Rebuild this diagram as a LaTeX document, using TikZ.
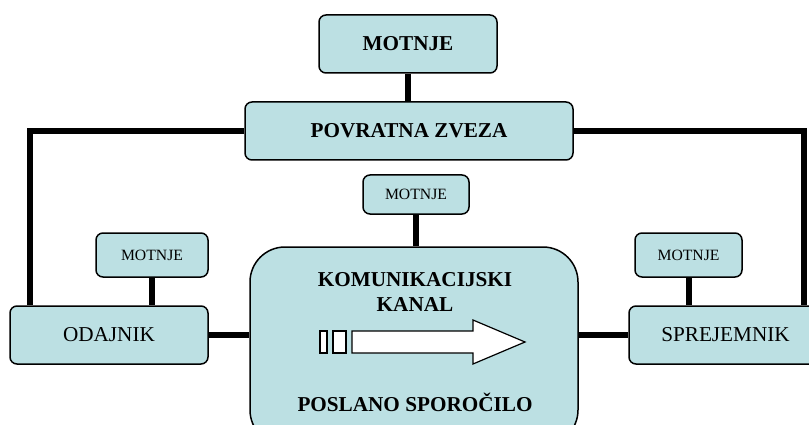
\documentclass[tikz,border=0pt]{standalone}
\usepackage{fontspec}
\setmainfont{Liberation Serif}
\usetikzlibrary{backgrounds}
\definecolor{skatla}{RGB}{188,224,227}

\tikzset{
	okvir/.style={draw, fill=skatla, line width=1.5pt, rounded corners=7pt, inner sep=0pt},
	velik/.style={font=\fontsize{21.2}{25}\selectfont\bfseries},
	srednji/.style={font=\fontsize{21.2}{25}\selectfont},
	majhen/.style={font=\fontsize{15.7}{18}\selectfont},
	vez/.style={line width=6pt},
	puscica/.style={draw, fill=white, line width=1.2pt}
}

\begin{document}
\begin{tikzpicture}[x=1pt, y=-1pt]
	\useasboundingbox (0,0) rectangle (809,425);
	\clip (0,0) rectangle (809,425);

	% skatle
	\node[okvir, velik, minimum width=178pt, minimum height=58pt] (motnje) at (408,44) {MOTNJE};
	\node[okvir, velik, minimum width=328pt, minimum height=58pt] (povratna) at (409,131) {POVRATNA ZVEZA};
	\node[okvir, majhen, minimum width=106pt, minimum height=39pt] (motnjeK) at (416,194.5) {MOTNJE};
	\node[okvir, majhen, minimum width=112pt, minimum height=44pt] (motnjeL) at (152,255) {MOTNJE};
	\node[okvir, majhen, minimum width=107pt, minimum height=44pt] (motnjeD) at (688.5,255) {MOTNJE};
	\node[okvir, srednji, minimum width=198pt, minimum height=58pt] (odajnik) at (109,335) {ODAJNIK};
	\node[okvir, minimum width=191pt, minimum height=58pt] (sprejemnik) at (724.5,335) {};
	\node[srednji] (sprejemnikT) at (725.5,335) {SPREJEMNIK};
	\node[okvir, rounded corners=35pt, minimum width=328pt, minimum height=198pt] (kanal) at (414,346) {};

	\node[velik, align=center] (naslov) at (415,292) {KOMUNIKACIJSKI\\KANAL};
	\node[velik] (sporocilo) at (415,402) {POSLANO SPOROČILO};

	% puscica
	\draw[puscica] (320,331) rectangle (327,353);
	\draw[puscica] (333,331) rectangle (346,353);
	\draw[puscica] (352,331) -- (473,331) -- (473,320) -- (525,342) -- (473,364) -- (473,353) -- (352,353) -- cycle;

	% povezave
	\begin{scope}[on background layer]
		\draw[vez] (motnje.south) -- (motnje.south |- povratna.north);
		\draw[vez] (motnjeK.south) -- (motnjeK.south |- kanal.north);
		\draw[vez] (motnjeL.south) -- (motnjeL.south |- odajnik.north);
		\draw[vez] (motnjeD.south) -- (motnjeD.south |- sprejemnik.north);
		\draw[vez] (odajnik.east) -- (odajnik.east -| kanal.west);
		\draw[vez] (kanal.east |- sprejemnik.west) -- (sprejemnik.west);
		\draw[vez] (povratna.west) -| ([xshift=21pt]odajnik.north west);
		\draw[vez] (povratna.east) -| ([xshift=-17pt]sprejemnik.north east);
	\end{scope}
\end{tikzpicture}
\end{document}
